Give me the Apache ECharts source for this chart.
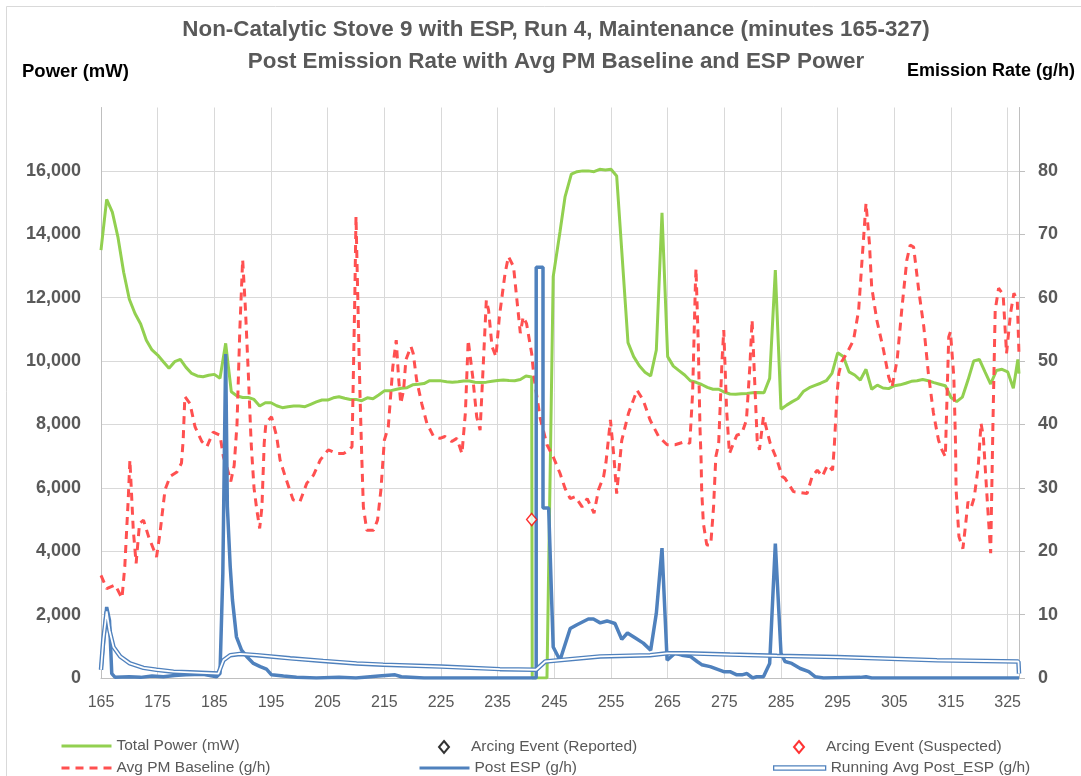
<!DOCTYPE html>
<html>
<head>
<meta charset="utf-8">
<title>Non-Catalytic Stove 9 with ESP, Run 4</title>
<script src="https://cdn.jsdelivr.net/npm/echarts@6/dist/echarts.min.js"></script>
<style>
  html, body { margin: 0; padding: 0; background: #ffffff; }
  #chart { width: 1081px; height: 776px; }
</style>
</head>
<body>
<div id="chart"></div>
<script>
// 数据 (minutes / values)
const powerMinutes = [165, 166, 167, 168, 169, 170, 171, 172, 173, 174, 175, 176, 177, 178, 179, 180, 181, 182, 183, 184,
  185, 186, 187, 188, 189, 190, 191, 192, 193, 194, 195, 196, 197, 198, 199, 200, 201, 202, 203, 204,
  205, 206, 207, 208, 209, 210, 211, 212, 213, 214, 215, 216, 217, 218, 219, 220, 221, 222, 223, 224,
  225, 226, 227, 228, 229, 230, 231, 232, 233, 234, 235, 236, 237, 238, 239, 240, 241, 241.1, 243.7, 244.8,
  246, 246.9, 248, 249, 250, 251, 252, 253, 254, 255, 256, 258, 259, 260, 261, 262, 263, 264, 265, 266,
  267, 268, 269, 270, 271, 272, 273, 274, 275, 276, 277, 278, 279, 280, 281, 282, 283, 284, 285, 286,
  287, 288, 289, 290, 291, 292, 293, 294, 295, 296, 297, 298, 299, 300, 301, 302, 303, 304, 305, 306,
  307, 308, 309, 310, 311, 312, 313, 314, 315, 316, 317, 318, 319, 320, 321, 322, 323, 324, 325, 326,
  326.8, 327];
const powerValues = [13500, 15100, 14700, 13900, 12800, 11950, 11500, 11170, 10660, 10350, 10190, 9980, 9770, 9980, 10050, 9800, 9610, 9530, 9505, 9550,
  9580, 9455, 10560, 9030, 8900, 8850, 8850, 8790, 8580, 8685, 8685, 8590, 8530, 8560, 8580, 8580, 8560, 8635, 8710, 8770,
  8770, 8840, 8875, 8825, 8790, 8790, 8750, 8840, 8810, 8930, 9060, 9060, 9100, 9140, 9160, 9250, 9265, 9290, 9380, 9380,
  9375, 9350, 9330, 9345, 9370, 9370, 9330, 9320, 9335, 9360, 9385, 9400, 9385, 9380, 9420, 9530, 9500, 0, 0, 12660,
  14080, 15190, 15900, 15975, 16000, 16000, 15975, 16050, 16030, 16050, 15840, 10580, 10140, 9850, 9650, 9530, 10350, 14680, 10140, 9840,
  9700, 9560, 9380, 9330, 9260, 9170, 9110, 9110, 9020, 8960, 8950, 8970, 8980, 9000, 9010, 9000, 9455, 12870, 8480, 8610,
  8720, 8820, 9050, 9160, 9230, 9300, 9380, 9610, 10260, 10140, 9660, 9560, 9400, 9740, 9110, 9240, 9150, 9130, 9220, 9250,
  9300, 9360, 9380, 9420, 9380, 9320, 9270, 9220, 8850, 8720, 8860, 9400, 10000, 10050, 9660, 9275, 9700, 9740, 9660, 9140,
  10050, 9600];

const baselineMinutes = [165, 166, 167.5, 168.7, 169.2, 169.8, 170.1, 170.7, 171.2, 171.8, 172.5, 173.4, 174.8, 175.4, 176.3, 177.2, 178.4, 179.2, 179.5, 179.8,
  180.7, 181.6, 182.8, 183.7, 184.8, 186, 186.6, 187.3, 187.9, 188.5, 189, 189.5, 190, 190.5, 191, 191.5, 192, 192.5, 193, 193.4,
  193.8, 194.1, 195.1, 196, 196.6, 197.5, 198.9, 200.1, 201.3, 202.5, 203.7, 205.1, 206.6, 207.8, 208.8, 209.3, 209.8, 210, 210.3, 210.7,
  211, 211.3, 211.9, 213.1, 213.8, 214.4, 215, 215.7, 216.5, 217.1, 217.5, 217.9, 218.4, 218.8, 219.7, 220.1, 220.7, 221.6, 222.5, 223.7,
  224.8, 225.7, 226.9, 227.8, 228.7, 229.3, 229.8, 230.1, 230.6, 231.3, 231.9, 232.5, 233, 233.4, 234, 234.7, 235.3, 236.3, 236.9, 237.8,
  238.4, 239, 239.5, 240.1, 241, 241.4, 242.5, 243.7, 244.8, 246, 246.9, 247.8, 248.7, 249.9, 250.8, 252, 252.8, 253.7, 254.1, 254.9,
  255.5, 256, 256.9, 258.1, 259.6, 260.7, 261.9, 263.4, 264.9, 266.3, 268.1, 268.9, 269.4, 269.9, 270, 270.4, 270.7, 270.9, 271, 271.3,
  271.9, 272.6, 273.1, 273.5, 274, 274.6, 274.9, 275.4, 275.9, 276.6, 277.2, 278.1, 278.9, 279.5, 279.9, 280.4, 280.8, 281.2, 281.9, 283.1,
  284.3, 285.2, 285.7, 287.2, 289.6, 290.5, 291.4, 292.3, 293.2, 294.1, 294.4, 294.9, 295.2, 295.7, 296.6, 297.8, 298.7, 299.3, 300, 300.6,
  301, 301.9, 303.1, 304, 304.6, 305.5, 306.3, 307.2, 307.8, 308.4, 309.3, 310.2, 311, 311.9, 312.8, 313.4, 314, 314.6, 314.9, 315.5,
  315.8, 315.9, 316.4, 317.1, 317.6, 318, 318.6, 319.1, 319.8, 320.3, 320.7, 321.4, 322, 322.4, 322.8, 323.4, 324.2, 324.8, 325.5, 326.1,
  326.7, 327];
const baselineValues = [16.2, 14.1, 14.7, 12.6, 17.6, 28.1, 34.4, 23.3, 18.1, 24.4, 24.9, 22.3, 19.1, 22.8, 29.7, 31.8, 32.5, 33.9, 37.5, 44.4,
  43.3, 39.6, 37.3, 36.5, 38.8, 38.3, 34.9, 33, 31, 33.5, 40, 55, 66, 58, 48, 37, 30, 26.5, 23.6, 27,
  37, 40.2, 41.2, 38.1, 34.4, 31.8, 28.1, 27.8, 30.7, 32, 34.4, 36, 35.4, 35.4, 36, 36.5, 60.7, 72.8, 60.7, 44.9,
  35.4, 27, 23.3, 23.3, 24.9, 29.7, 37.5, 39.6, 49.1, 53.3, 47.5, 43.3, 45.4, 50.2, 52.3, 51.2, 47, 43.3, 40.2, 38.1,
  37.8, 38.1, 37.3, 37.8, 35.4, 41.8, 53.3, 53.6, 47.5, 41.2, 39.1, 50.2, 59.6, 58, 52.3, 50.7, 57, 63.8, 66.5, 64.9,
  59.6, 54.4, 57, 55.9, 51.2, 47.5, 41, 36.8, 34.9, 32.3, 29.9, 28.3, 28.6, 27, 28.3, 26, 29.7, 31.8, 33.9, 40.7,
  35, 29.1, 37.5, 41.8, 45.4, 43.8, 40.7, 38.1, 36.8, 36.8, 37.3, 37, 44.9, 62.3, 64.6, 52.8, 39.6, 34.4, 29.7, 24.4,
  21, 21, 27, 34.9, 37, 50.2, 54.9, 42.3, 35.4, 37, 38.3, 38.6, 40.7, 49.1, 56.5, 45.9, 37.5, 36, 41.2, 37,
  34.4, 31.8, 31.5, 29.4, 29.1, 31.8, 32.8, 31.8, 33.6, 32.8, 36.5, 44.9, 48, 49.9, 51.2, 53.3, 58, 65.9, 74.9, 68.6,
  61.7, 56.5, 51.7, 47.5, 45.9, 50.2, 58, 65.9, 68.3, 68, 61.2, 55.4, 48.1, 41.8, 37.5, 36, 34.9, 53.8, 54.6, 47.5,
  37, 29.7, 22.3, 20.4, 24.4, 27.8, 27, 28.5, 33.3, 40.2, 38.1, 28, 19.7, 40, 58, 61.5, 60.5, 51.2, 57.5, 60.7,
  59.5, 51];

const postEspMinutes = [165, 166, 166.5, 166.9, 167.5, 170, 172, 174, 176, 178, 180, 183, 185.4, 186, 186.5, 187, 187.3, 187.8, 188.2, 188.9,
  189.8, 190.7, 191.9, 193.1, 194.2, 195.1, 197.2, 199.5, 203, 207, 210, 214, 216.9, 218, 222, 241.8, 241.8, 243, 243, 244,
  244.8, 246, 247.8, 249, 251, 251.9, 253.1, 254.3, 255.7, 256.9, 257.9, 259.3, 260.7, 262, 263, 264, 264.9, 266.3, 267.5, 269,
  270.2, 271, 272.5, 273.7, 274.9, 276, 277.2, 278.1, 279, 280, 280.7, 281.9, 283, 284, 285, 285.7, 286.9, 288.4, 289.9, 291,
  292.5, 299, 300, 301, 327];
const postEspValues = [1.3, 11.2, 9.1, 0.7, 0.1, 0.2, 0.1, 0.3, 0.2, 0.4, 0.5, 0.6, 0.2, 0.7, 16.5, 51.1, 27, 17.6, 12.3, 6.5,
  4.4, 3.4, 2.3, 1.8, 1.4, 0.5, 0.3, 0.1, 0, 0.1, 0, 0.3, 0.5, 0.2, 0, 0, 64.8, 64.8, 26.8, 26.8,
  4.9, 2.8, 7.8, 8.4, 9.3, 9.3, 8.7, 9, 8.6, 6.1, 7.1, 6.3, 5.5, 4.4, 10.2, 20.5, 2.8, 3.9, 3.6, 3.4,
  2.6, 2.1, 1.8, 1.4, 1, 1, 0.5, 0.5, 0.7, 0, 0.2, 0.2, 2.3, 21.2, 3.9, 2.6, 2.3, 1.5, 1, 0.2,
  0, 0.1, 0.2, 0, 0];

const runningAvgMinutes = [165, 165.4, 166, 166.5, 167.2, 168.4, 170.1, 172.5, 174.8, 177.8, 180.7, 185.7, 186.6, 187.8, 189.5, 192.5, 198.4, 204.2, 210.1, 214.8,
  225, 235.4, 241.8, 243.4, 253.1, 261.9, 264.9, 268.4, 276, 284.3, 294.9, 312.5, 326.9, 327];
const runningAvgValues = [1.3, 6, 10.5, 7.5, 4.9, 3.4, 2.3, 1.6, 1.3, 1, 0.9, 0.7, 2.8, 3.6, 3.8, 3.6, 3.1, 2.7, 2.3, 2.1,
  1.8, 1.4, 1.3, 2.6, 3.4, 3.6, 3.9, 3.9, 3.7, 3.5, 3.3, 2.8, 2.6, 0.7];

// 电弧事件: reported has no points, suspected has one (power axis)
const arcingReported = [];
const arcingSuspected = [[241, 5000]];

// 刻度
const rightTicks = [0, 10, 20, 30, 40, 50, 60, 70, 80];

const GREEN = '#92D050';
const RED = '#FF5050';
const BLUE = '#4F81BD';
const GRID = '#D9D9D9';
const LABEL = '#595959';
const FONT = '"Liberation Sans", Arial, sans-serif';

function zip(xs, ys) {
  return xs.map((x, i) => [x, ys[i]]);
}

let chart = null;

document.addEventListener('DOMContentLoaded', function() {
  initializeChart();
});

// 图例 (one legend box per entry, laid out like the Excel legend)
function legendBox(name, left, top, extra) {
  return Object.assign({
    data: [name],
    left: left,
    top: top,
    padding: 0,
    itemWidth: 50,
    itemHeight: 14,
    textStyle: { color: LABEL, fontSize: 15.5, fontFamily: FONT },
    lineStyle: { width: 3 },
    itemStyle: { opacity: 0 }
  }, extra || {});
}

function markerLegend(name, left, top) {
  return legendBox(name, left, top, {
    itemWidth: 10,
    itemHeight: 12,
    itemStyle: {},
    textStyle: { color: LABEL, fontSize: 15.5, fontFamily: FONT, padding: [0, 0, 0, 17] }
  });
}

function initializeChart() {
  chart = echarts.init(document.getElementById('chart'), null, { renderer: 'canvas' });

  const option = {
    backgroundColor: '#ffffff',
    animation: false,
    title: [
      {
        text: 'Non-Catalytic Stove 9 with ESP, Run 4, Maintenance (minutes 165-327)\nPost Emission Rate with Avg PM Baseline and ESP Power',
        left: 551,
        top: 9,
        textAlign: 'center',
        textStyle: { color: LABEL, fontSize: 22.4, fontWeight: 'bold', fontFamily: FONT, lineHeight: 32 }
      },
      {
        text: 'Power (mW)',
        left: 22,
        top: 62,
        padding: 0,
        textStyle: { color: '#000000', fontSize: 18.5, fontWeight: 'bold', fontFamily: FONT }
      },
      {
        text: 'Emission Rate (g/h)',
        right: 6,
        top: 62,
        padding: 0,
        textStyle: { color: '#000000', fontSize: 18, fontWeight: 'bold', fontFamily: FONT }
      }
    ],
    graphic: [{
      type: 'rect',
      shape: { x: 6.5, y: 6.5, width: 1200, height: 1000 },
      style: { fill: 'none', stroke: GRID, lineWidth: 1 },
      silent: true
    }],
    grid: {
      left: 101,
      right: 62,
      top: 107.5,
      bottom: 98,
      containLabel: false,
      outerBoundsMode: 'none'
    },
    legend: [
      legendBox('Total Power (mW)', 60, 738),
      markerLegend('Arcing Event (Reported)', 438, 739),
      markerLegend('Arcing Event (Suspected)', 793, 739),
      legendBox('Avg PM Baseline (g/h)', 60, 760),
      legendBox('Post ESP (g/h)', 418, 760),
      legendBox('Running Avg Post_ESP (g/h)', 773, 760, {
        data: [{
          name: 'Running Avg Post_ESP (g/h)',
          icon: 'path://M0,0H50V4H0Z',
          itemStyle: { color: '#ffffff', borderColor: BLUE, borderWidth: 1.3, opacity: 1 }
        }],
        itemStyle: {},
        itemWidth: 52
      })
    ],
    xAxis: {
      type: 'value',
      min: 165,
      max: 327,
      interval: 10,
      axisLine: { show: true, onZero: false, lineStyle: { color: '#BFBFBF', width: 1 } },
      axisTick: { show: false },
      axisLabel: {
        color: LABEL,
        fontSize: 16,
        fontFamily: FONT,
        margin: 17,
        showMaxLabel: false
      },
      splitLine: { show: true, lineStyle: { color: GRID, width: 1 } }
    },
    yAxis: [
      {
        type: 'value',
        position: 'left',
        min: 0,
        max: 18000,
        interval: 2000,
        axisLine: { show: true, lineStyle: { color: '#BFBFBF', width: 1 } },
        axisTick: { show: false },
        axisLabel: {
          color: LABEL,
          fontSize: 18,
          fontWeight: 'bold',
          fontFamily: FONT,
          margin: 20,
          formatter: function(value) {
            return value >= 18000 ? '' : value.toLocaleString('en-US');
          }
        },
        splitLine: {
          show: true,
          lineStyle: {
            color: [GRID, GRID, GRID, GRID, GRID, GRID, GRID, GRID, GRID, 'rgba(0,0,0,0)'],
            width: 1
          }
        }
      },
      {
        type: 'value',
        position: 'right',
        min: 0,
        max: 90,
        interval: 10,
        axisLine: { show: true, lineStyle: { color: '#BFBFBF', width: 1 } },
        axisTick: { show: true, inside: false, length: 6, customValues: rightTicks, lineStyle: { color: '#BFBFBF' } },
        axisLabel: {
          color: LABEL,
          fontSize: 18,
          fontWeight: 'bold',
          fontFamily: FONT,
          margin: 19,
          formatter: function(value) {
            return value >= 90 ? '' : String(value);
          }
        },
        splitLine: { show: false }
      }
    ],
    series: [
      {
        name: 'Total Power (mW)',
        type: 'line',
        yAxisIndex: 0,
        data: zip(powerMinutes, powerValues),
        symbol: 'none',
        lineStyle: { color: GREEN, width: 3 },
        itemStyle: { color: GREEN },
        z: 2
      },
      {
        name: 'Avg PM Baseline (g/h)',
        type: 'line',
        yAxisIndex: 1,
        data: zip(baselineMinutes, baselineValues),
        symbol: 'none',
        lineStyle: { color: RED, width: 3, type: [8, 6], cap: 'butt' },
        itemStyle: { color: RED },
        z: 3
      },
      {
        name: 'Post ESP (g/h)',
        type: 'line',
        yAxisIndex: 1,
        data: zip(postEspMinutes, postEspValues),
        symbol: 'none',
        lineStyle: { color: BLUE, width: 3.5 },
        itemStyle: { color: BLUE },
        z: 4
      },
      {
        name: 'Running Avg Post_ESP (g/h)',
        type: 'line',
        yAxisIndex: 1,
        data: zip(runningAvgMinutes, runningAvgValues),
        symbol: 'none',
        lineStyle: { color: BLUE, width: 4.5 },
        itemStyle: { color: BLUE },
        z: 5
      },
      {
        // white core makes the running average a double line
        type: 'line',
        yAxisIndex: 1,
        data: zip(runningAvgMinutes, runningAvgValues),
        symbol: 'none',
        lineStyle: { color: '#ffffff', width: 1.8 },
        silent: true,
        z: 6
      },
      {
        name: 'Arcing Event (Reported)',
        type: 'scatter',
        yAxisIndex: 0,
        data: arcingReported,
        symbol: 'diamond',
        symbolSize: [10, 12],
        itemStyle: { color: '#ffffff', borderColor: '#000000', borderWidth: 1.5 },
        z: 7
      },
      {
        name: 'Arcing Event (Suspected)',
        type: 'scatter',
        yAxisIndex: 0,
        data: arcingSuspected,
        symbol: 'diamond',
        symbolSize: [10, 12],
        itemStyle: { color: '#ffffff', borderColor: '#FF0000', borderWidth: 1.5 },
        z: 7
      }
    ]
  };

  chart.setOption(option);
}
</script>
</body>
</html>
